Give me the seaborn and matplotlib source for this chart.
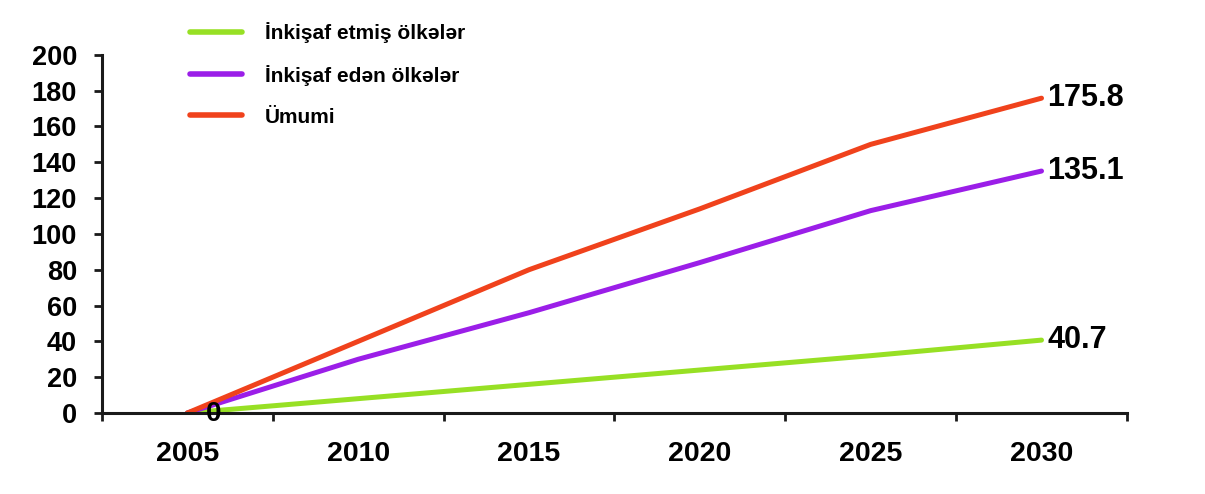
import pandas as pd
import matplotlib.pyplot as plt
import seaborn as sns
from matplotlib.ticker import FixedLocator

# values
years = ['2005', '2010', '2015', '2020', '2025', '2030']
developed = [0, 8, 16, 24, 32, 40.7]
developing = [0, 30, 56, 84, 113, 135.1]
total = [0, 40, 80, 114, 150, 175.8]

series_names = ['İnkişaf etmiş ölkələr', 'İnkişaf edən ölkələr', 'Ümumi']
series_colors = ['#97e024', '#9b1ee8', '#f0421c']

df = pd.DataFrame({
    'Year': years * 3,
    'Value': developed + developing + total,
    'Series': [s for s in series_names for _ in years],
})

sns.set_style("white")
plt.rcParams['font.family'] = ['Liberation Sans', 'DejaVu Sans']
plt.rcParams['text.color'] = 'black'
plt.rcParams['xtick.color'] = 'black'
plt.rcParams['ytick.color'] = 'black'

fig = plt.figure(figsize=(12.05, 4.94), dpi=100)
ax = fig.add_axes([0.0846, 0.164, 0.8506, 0.725])

sns.lineplot(data=df, x='Year', y='Value', hue='Series', hue_order=series_names,
             palette=series_colors, linewidth=3.6, ax=ax, sort=False)

ax.set_xlim(-0.5, len(years) - 0.5)
ax.set_ylim(0, 200)
ax.set_yticks(range(0, 201, 20))
ax.set_xlabel('')
ax.set_ylabel('')

for side in ['top', 'right']:
    ax.spines[side].set_visible(False)
for side in ['left', 'bottom']:
    ax.spines[side].set_color('#1a1a1a')
    ax.spines[side].set_linewidth(2.2)

# category ticks sit between the categories, labels centred
ax.xaxis.set_minor_locator(FixedLocator([i - 0.5 for i in range(len(years) + 1)]))
ax.tick_params(axis='x', which='both', bottom=True)
ax.tick_params(axis='x', which='major', length=0, pad=20, labelsize=20.5)
ax.tick_params(axis='x', which='minor', direction='out', length=6, width=2, color='#1a1a1a')
ax.tick_params(axis='y', left=True, direction='out', length=6, width=2, color='#1a1a1a',
               labelsize=19.5, pad=12)
for lbl in ax.get_xticklabels() + ax.get_yticklabels():
    lbl.set_fontweight('bold')

# end labels
last = len(years) - 1
for vals in [total, developing, developed]:
    ax.annotate(f'{vals[-1]:.1f}', xy=(last, vals[-1]), xytext=(4, 0),
                textcoords='offset points', ha='left', va='center',
                fontsize=22, fontweight='bold', annotation_clip=False)
ax.annotate('0', xy=(0, total[0]), xytext=(13, -1), textcoords='offset points',
            ha='left', va='center', fontsize=20, fontweight='bold',
            annotation_clip=False)

leg = ax.legend(loc='upper left', bbox_to_anchor=(190 / 1205, 1 - 22 / 494),
                bbox_transform=fig.transFigure, frameon=False, fontsize=15,
                handlelength=2.5, handletextpad=1.1, labelspacing=1.05,
                borderpad=0, borderaxespad=0)
for txt in leg.get_texts():
    txt.set_fontweight('bold')
for line in leg.get_lines():
    line.set_linewidth(4)

fig.savefig('out.png', dpi=100, facecolor='white')
